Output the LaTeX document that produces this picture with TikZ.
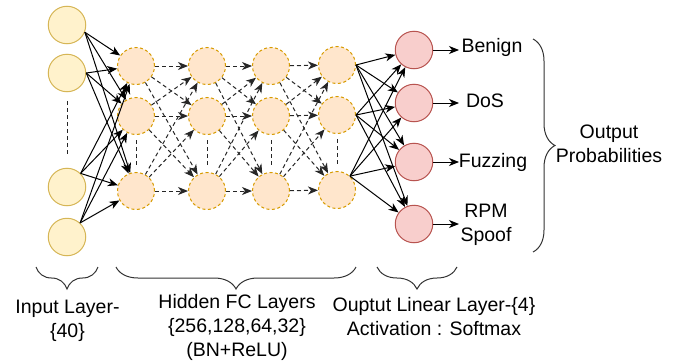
\documentclass[tikz,border=0pt]{standalone}
\usepackage{fontspec}
\setmainfont{Liberation Sans}
\usetikzlibrary{arrows.meta,decorations.pathreplacing}
\definecolor{inFill}{HTML}{FFF2CC}
\definecolor{inDraw}{HTML}{D6B656}
\definecolor{hidFill}{HTML}{FFE6CC}
\definecolor{hidDraw}{HTML}{D79B00}
\definecolor{outFill}{HTML}{F8CECC}
\definecolor{outDraw}{HTML}{B85450}
\begin{document}
\begin{tikzpicture}[x=1pt,y=-1pt,
  innode/.style={circle, draw=inDraw, fill=inFill, line width=1pt, minimum size=37.5pt, inner sep=0pt},
  hidnode/.style={circle, draw=hidDraw, fill=hidFill, line width=1pt, minimum size=37pt, inner sep=0pt, dash pattern=on 3pt off 2.5pt},
  outnode/.style={circle, draw=outDraw, fill=outFill, line width=1pt, minimum size=37.5pt, inner sep=0pt},
  conn/.style={draw=black, line width=1pt, -{Stealth[length=10pt,width=8pt,inset=3pt]}},
  dconn/.style={conn, draw=black!85, dash pattern=on 4pt off 3pt},
  vdash/.style={draw=black!85, line width=1pt, dash pattern=on 4pt off 3pt},
  lbl/.style={font=\fontsize{19.5}{24}\selectfont, inner sep=0pt, align=center, anchor=base},
  brc/.style={decorate, decoration={brace, amplitude=22pt}, line width=1pt, draw=black!80},
]
\useasboundingbox (0,0) rectangle (688,364);

% input layer
\node[innode] (in1) at (67,25) {};
\node[innode] (in2) at (67,73) {};
\node[innode] (in3) at (67,187) {};
\node[innode] (in4) at (67,237) {};

% hidden layers
\foreach \c/\x/\d in {1/136/0,2/207/0,3/271/0,4/337/1}{
  \node[hidnode] (h\c a) at (\x,66-\d) {};
  \node[hidnode] (h\c b) at (\x,116-\d) {};
  \node[hidnode] (h\c c) at (\x,191-\d) {};
}

% output layer
\node[outnode] (o1) at (414,50) {};
\node[outnode] (o2) at (414,103) {};
\node[outnode] (o3) at (414,162) {};
\node[outnode] (o4) at (414,224) {};

% ellipsis lines
\draw[vdash, shorten <=9pt, shorten >=11pt] (in2) -- (in3);
\foreach \c in {1,2,3,4}{
  \draw[vdash, shorten <=5pt, shorten >=6pt] (h\c b) -- (h\c c);
}

% input -> hidden 1
\foreach \t in {h1a,h1b,h1c}{
  \draw[conn] (in1.-22) -- (\t);
  \draw[conn] (in2.east) -- (\t);
  \draw[conn] (in3.45) -- (\t);
  \draw[conn] (in4.47) -- (\t);
}

% hidden -> hidden
\foreach \s/\n in {1/2,2/3,3/4}{
  \foreach \a in {a,b,c}{
    \foreach \b in {a,b,c}{
      \draw[dconn] (h\s\a) -- (h\n\b);
    }
  }
}

% hidden 4 -> output
\foreach \t in {o1,o2,o3,o4}{
  \draw[conn] (h4a.east) -- (\t);
  \draw[conn] (h4b.east) -- (\t);
  \draw[conn] (h4c.47) -- (\t);
}

% output labels
\node[lbl] (lbBenign) at (492,52) {Benign};
\node[lbl] (lbDoS) at (485,107) {DoS};
\node[lbl] (lbFuzz) at (493,167) {Fuzzing};
\node[lbl] (lbRPM) at (486,241) {RPM\\Spoof};
\coordinate (e1) at (459,50);
\coordinate (e2) at (459,103);
\coordinate (e3) at (459,162);
\coordinate (e4) at (459,224);
\foreach \i in {1,2,3,4}{
  \draw[conn] (o\i.east) -- (e\i);
}

% right brace and caption
\coordinate (rb1) at (533,39);
\coordinate (rb2) at (533,252);
\draw[brc] (rb1) -- (rb2);
\node[lbl] (lbProb) at (609,162) {Output\\Probabilities};

% bottom braces
\coordinate (bi1) at (36,267);  \coordinate (bi2) at (98,267);
\coordinate (bh1) at (116,267); \coordinate (bh2) at (356,267);
\coordinate (bo1) at (377,267); \coordinate (bo2) at (457,267);
\draw[brc, decoration={mirror}] (bi1) -- (bi2);
\draw[brc, decoration={mirror}] (bh1) -- (bh2);
\draw[brc, decoration={mirror}] (bo1) -- (bo2);

\node[lbl] (lbIn) at (67.5,337) {Input Layer-\\\{40\}};
\node[lbl] (lbHid) at (237,356) {Hidden FC Layers\\\{256,128,64,32\}\\(BN+ReLU)};
\node[lbl] (lbOut) at (434,335) {Ouptut Linear Layer-\{4\}\\Activation : Softmax};
\end{tikzpicture}
\end{document}
